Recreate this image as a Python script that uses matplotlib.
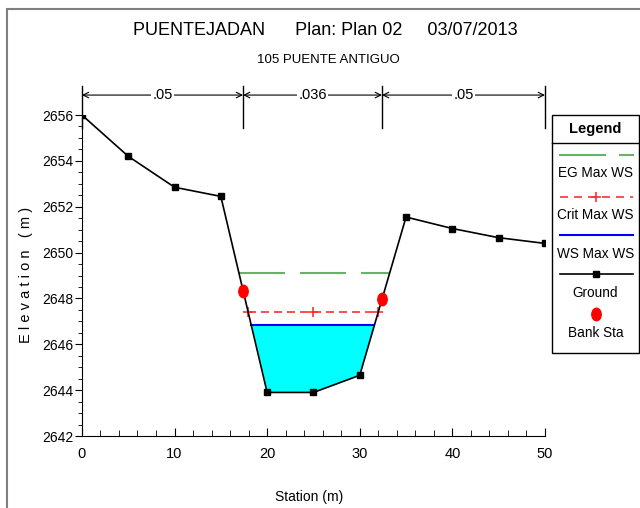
import numpy as np
import matplotlib
matplotlib.use('Agg')
import matplotlib.pyplot as plt
from matplotlib.lines import Line2D
from matplotlib.patches import Rectangle
from matplotlib.markers import MarkerStyle
from matplotlib.transforms import Affine2D

plt.rcParams['font.family'] = ['Liberation Sans', 'DejaVu Sans']
plt.rcParams['lines.scale_dashes'] = False

# ground profile
station = [0, 5, 10, 15, 20, 25, 30, 35, 40, 45, 50]
ground = [2656.0, 2654.2, 2652.85, 2652.45, 2643.9, 2643.9, 2644.65, 2651.55, 2651.05, 2650.65, 2650.4]
bank_sta = [17.4, 32.4]
eg_ws = 2649.12
crit_ws = 2647.42
ws = 2646.83
n_values = ['.05', '.036', '.05']
n_breaks = [0, 17.4, 32.4, 50]

PX = 72 / 100  # points per pixel


def crossings(h):
    # left/right points where the water level meets the ground around the channel
    st = np.array(station, float)
    el = np.array(ground, float)
    low = int(np.argmin(el))
    left = right = None
    for i in range(low, 0, -1):
        if el[i - 1] >= h >= el[i]:
            left = st[i] + (h - el[i]) / (el[i - 1] - el[i]) * (st[i - 1] - st[i])
            break
    for i in range(low, len(st) - 1):
        if el[i] <= h <= el[i + 1]:
            right = st[i] + (h - el[i]) / (el[i + 1] - el[i]) * (st[i + 1] - st[i])
            break
    return left, right


oval = MarkerStyle('o', transform=Affine2D().scale(0.75, 1.0))

fig = plt.figure(figsize=(6.4, 5.08), dpi=100)
ax = fig.add_axes([0.128, 0.1417, 0.7235, 0.6319])

# water fill
xs = np.linspace(0, 50, 2001)
gi = np.interp(xs, station, ground)
wl, wr = crossings(ws)
ax.fill_between(xs, gi, ws, where=(gi < ws) & (xs >= wl) & (xs <= wr), color='#00ffff', lw=0, zorder=1)

el, er = crossings(eg_ws)
ax.plot([el, er], [eg_ws, eg_ws], color='#66b266', lw=1.5, dashes=(46 * PX, 15 * PX), zorder=2)
cl, cr = crossings(crit_ws)
ax.plot([cl, cr], [crit_ws, crit_ws], color='#ff3030', lw=1.2, dashes=(8 * PX, 5 * PX), zorder=2)
ax.plot([cl, (cl + cr) / 2, cr], [crit_ws] * 3, ls='none', marker='+', color='#ff3030', ms=7, mew=1.2, zorder=2)
ax.plot([wl, wr], [ws, ws], color='#0000ff', lw=1.5, zorder=3)

ax.plot(station, ground, color='black', lw=1.2, marker='s', ms=4.5, zorder=4)
ax.plot(bank_sta, np.interp(bank_sta, station, ground), ls='none', marker=oval, color='red',
        ms=9, zorder=5)

ax.set_xlim(0, 50)
ax.set_ylim(2642, 2656)
ax.set_xticks(range(0, 51, 10))
ax.set_xticks(np.arange(0, 51, 2), minor=True)
ax.set_yticks(range(2642, 2657, 2))
ax.set_yticks(np.arange(2642, 2656.1, 0.5), minor=True)
ax.tick_params(axis='x', which='both', direction='in', labelsize=10.5, pad=8)
ax.tick_params(axis='x', which='major', length=6)
ax.tick_params(axis='x', which='minor', length=4)
ax.tick_params(axis='y', which='both', direction='out', labelsize=10, pad=1)
ax.tick_params(axis='y', which='major', length=5)
ax.tick_params(axis='y', which='minor', length=3)
ax.spines['top'].set_visible(False)
ax.spines['right'].set_visible(False)

# manning's n bars above the plot
ytop = 2657.26
ybot = 2655.45
yarr = 2656.87
for b in n_breaks:
    ax.plot([b, b], [ybot, ytop], color='black', lw=1, clip_on=False)
for i, txt in enumerate(n_values):
    a, b = n_breaks[i], n_breaks[i + 1]
    ax.annotate('', xy=(a, yarr), xytext=(b, yarr), annotation_clip=False,
                arrowprops=dict(arrowstyle='<->', lw=0.8, color='black', shrinkA=0, shrinkB=0))
    ax.text((a + b) / 2, yarr, txt, ha='center', va='center', fontsize=10.5, clip_on=False,
            bbox=dict(facecolor='white', edgecolor='none', pad=1))

fig.text(0.508, 0.94, 'PUENTEJADAN      Plan: Plan 02     03/07/2013', ha='center', va='center', fontsize=13)
fig.text(0.513, 0.882, '105 PUENTE ANTIGUO', ha='center', va='center', fontsize=9.5)
fig.text(0.483, 0.022, 'Station (m)', ha='center', va='center', fontsize=10)
fig.text(0.041, 0.458, 'E l e v a t i o n   ( m )', ha='center', va='center', rotation=90, fontsize=10.5)

# outer frame
fig.patches.append(Rectangle((0.011, -0.1), 1.1, 1.0823, transform=fig.transFigure,
                             fill=False, edgecolor='#808080', lw=1.5))

# legend
lx0, lx1 = 552 / 640, 639 / 640


def fy(p):
    return 1 - p / 508


fig.patches.append(Rectangle((lx0, fy(353)), lx1 - lx0, fy(115) - fy(353), transform=fig.transFigure,
                             fill=True, facecolor='white', edgecolor='black', lw=1))
fig.lines.append(Line2D([lx0, lx1], [fy(143), fy(143)], transform=fig.transFigure, color='black', lw=1))
lc = (lx0 + lx1) / 2
fig.text(lc, fy(129), 'Legend', ha='center', va='center', fontsize=10.5, weight='bold')
sx0, sx1 = 560 / 640, 633 / 640
fig.lines.append(Line2D([sx0, 605 / 640], [fy(155)] * 2, transform=fig.transFigure, color='#66b266', lw=1.5))
fig.lines.append(Line2D([620 / 640, sx1], [fy(155)] * 2, transform=fig.transFigure, color='#66b266', lw=1.5))
fig.text(lc, fy(173), 'EG Max WS', ha='center', va='center', fontsize=9.8)
fig.lines.append(Line2D([sx0, sx1], [fy(197)] * 2, transform=fig.transFigure, color='#ff3030', lw=1.2,
                        dashes=(8 * PX, 6 * PX)))
fig.lines.append(Line2D([lc], [fy(197)], transform=fig.transFigure, color='#ff3030', marker='+', ms=7, mew=1.2))
fig.text(lc, fy(215), 'Crit Max WS', ha='center', va='center', fontsize=9.8)
fig.lines.append(Line2D([sx0, sx1], [fy(235)] * 2, transform=fig.transFigure, color='#0000ff', lw=1.5))
fig.text(lc, fy(254), 'WS Max WS', ha='center', va='center', fontsize=9.8)
fig.lines.append(Line2D([sx0, lc, sx1], [fy(274)] * 3, transform=fig.transFigure, color='black', lw=1.2,
                        marker='s', ms=4.5, markevery=[1]))
fig.text(lc, fy(293), 'Ground', ha='center', va='center', fontsize=9.8)
fig.lines.append(Line2D([lc], [fy(314)], transform=fig.transFigure, color='red', marker=oval, ms=9, ls='none'))
fig.text(lc, fy(333), 'Bank Sta', ha='center', va='center', fontsize=9.8)

fig.savefig('out.png', dpi=100)
